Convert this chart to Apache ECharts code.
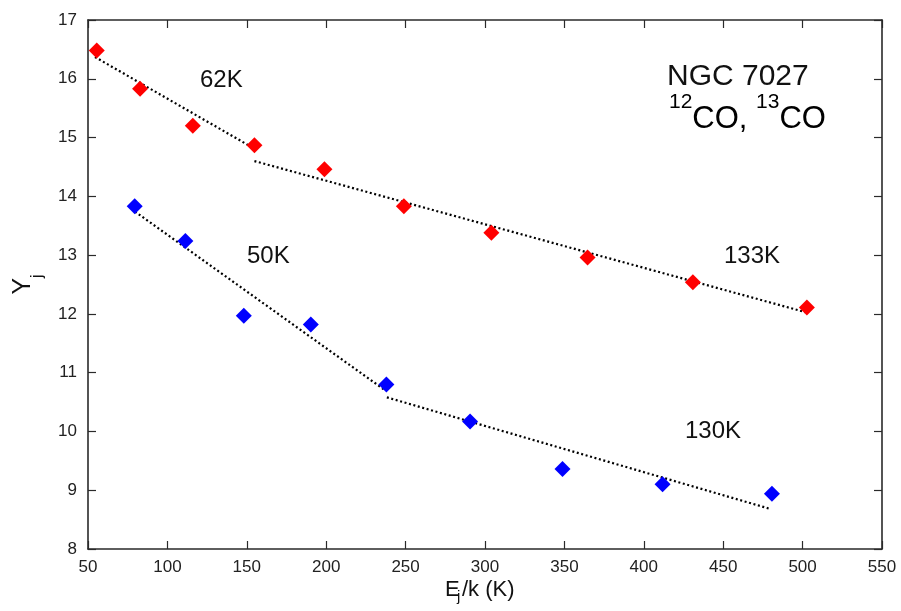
<!DOCTYPE html>
<html><head><meta charset="utf-8">
<script src="https://cdn.jsdelivr.net/npm/echarts@6/dist/echarts.min.js"></script>
<style>html,body{margin:0;padding:0;background:#fff}#c{width:901px;height:611px}</style>
</head><body><div id="c"></div>
<script>
// 12CO (red) data
var redX = [55.5, 82.8, 116.0, 154.8, 198.9, 248.9, 304.0, 364.6, 430.9, 502.7];
var redY = [16.48, 15.83, 15.20, 14.87, 14.46, 13.83, 13.38, 12.96, 12.54, 12.11];
// 13CO (blue) data
var blueX = [79.4, 111.3, 148.1, 190.3, 237.9, 290.6, 348.8, 411.8, 480.7];
var blueY = [13.83, 13.24, 11.97, 11.82, 10.80, 10.17, 9.36, 9.10, 8.94];
// fitted segments [x0, y0, x1, y1]
var redFit1 = [54.4, 16.37, 154.2, 14.82];
var redFit2 = [154.8, 14.60, 501.7, 12.03];
var blueFit1 = [79.6, 13.74, 237.1, 10.70];
var blueFit2 = [238.2, 10.58, 478.6, 8.69];
var xTicks = [50, 100, 150, 200, 250, 300, 350, 400, 450, 500, 550];
var yTicks = [8, 9, 10, 11, 12, 13, 14, 15, 16, 17];

function pairs(xs, ys){ return xs.map(function(x,i){return [x, ys[i]];}); }
function seg(s){ return [[s[0], s[1]], [s[2], s[3]]]; }

var FONT = '"Liberation Sans", Arial, sans-serif';
var axisCol = '#2a2a2a';
var chart = echarts.init(document.getElementById('c'));
function fitSeries(s){
  return {type:'line', data: seg(s), xAxisIndex:0, yAxisIndex:0, symbol:'none', silent:true,
    lineStyle:{color:'#000', width:2.2, type:[2,2.6]}, z:2};
}
chart.setOption({
  animation:false,
  grid:{left:88, right:19, top:20, bottom:62, containLabel:false, outerBoundsMode:'none'},
  xAxis:[{
    type:'value', min:xTicks[0], max:xTicks[xTicks.length-1], interval:50,
    axisLine:{lineStyle:{color:axisCol, width:1.6}},
    axisTick:{inside:true, length:8, lineStyle:{color:axisCol, width:1.2}},
    axisLabel:{color:'#222', fontSize:17, fontFamily:FONT, margin:10},
    splitLine:{show:false}
  },{
    type:'value', min:xTicks[0], max:xTicks[xTicks.length-1], interval:50, position:'top',
    axisLine:{lineStyle:{color:axisCol, width:1.6}},
    axisTick:{inside:true, length:8, lineStyle:{color:axisCol, width:1.2}},
    axisLabel:{show:false}, splitLine:{show:false}
  }],
  yAxis:[{
    type:'value', min:yTicks[0], max:yTicks[yTicks.length-1], interval:1,
    axisLine:{show:true, lineStyle:{color:axisCol, width:1.6}},
    axisTick:{show:true, inside:true, length:8, lineStyle:{color:axisCol, width:1.2}},
    axisLabel:{color:'#222', fontSize:17, fontFamily:FONT, margin:11},
    splitLine:{show:false},
    name:'{a|Y}{s|j}', nameLocation:'middle', nameGap:52,
    nameTextStyle:{rich:{a:{fontSize:25, fontFamily:FONT, color:'#111'}, s:{fontSize:16, fontFamily:FONT, color:'#111', verticalAlign:'bottom', padding:[0,0,-10,0]}}}
  },{
    type:'value', min:yTicks[0], max:yTicks[yTicks.length-1], interval:1, position:'right',
    axisLine:{show:true, lineStyle:{color:axisCol, width:1.6}},
    axisTick:{show:true, inside:true, length:8, lineStyle:{color:axisCol, width:1.2}},
    axisLabel:{show:false}, splitLine:{show:false}
  }],
  series:[
    fitSeries(redFit1), fitSeries(redFit2), fitSeries(blueFit1), fitSeries(blueFit2),
    {type:'scatter', data:pairs(redX, redY), symbol:'diamond', symbolSize:[16,16], itemStyle:{color:'#ff0000', opacity:1}, z:3},
    {type:'scatter', data:pairs(blueX, blueY), symbol:'diamond', symbolSize:[16,16], itemStyle:{color:'#0000ff', opacity:1}, z:3}
  ],
  graphic:[
    {type:'text', left:445, top:579, style:{text:'E', font:'22px '+FONT, fill:'#111'}},
    {type:'text', left:457, top:589, style:{text:'j', font:'15px '+FONT, fill:'#111'}},
    {type:'text', left:462, top:579, style:{text:'/k (K)', font:'22px '+FONT, fill:'#111'}},
    {type:'text', left:200, top:68, style:{text:'62K', font:'24px '+FONT, fill:'#111'}},
    {type:'text', left:247, top:244, style:{text:'50K', font:'24px '+FONT, fill:'#111'}},
    {type:'text', left:724, top:244, style:{text:'133K', font:'24px '+FONT, fill:'#111'}},
    {type:'text', left:685, top:419, style:{text:'130K', font:'24px '+FONT, fill:'#111'}},
    {type:'text', left:667, top:62, style:{text:'NGC 7027', font:'30px '+FONT, fill:'#111'}},
    {type:'text', left:669, top:92, style:{
      text:'{s|12}{a|CO, }{s|13}{a|CO}',
      rich:{a:{font:'31px '+FONT, color:'#111'}, s:{font:'21px '+FONT, color:'#111', verticalAlign:'top', padding:[-12,0,0,0]}}
    }}
  ]
});
</script></body></html>
